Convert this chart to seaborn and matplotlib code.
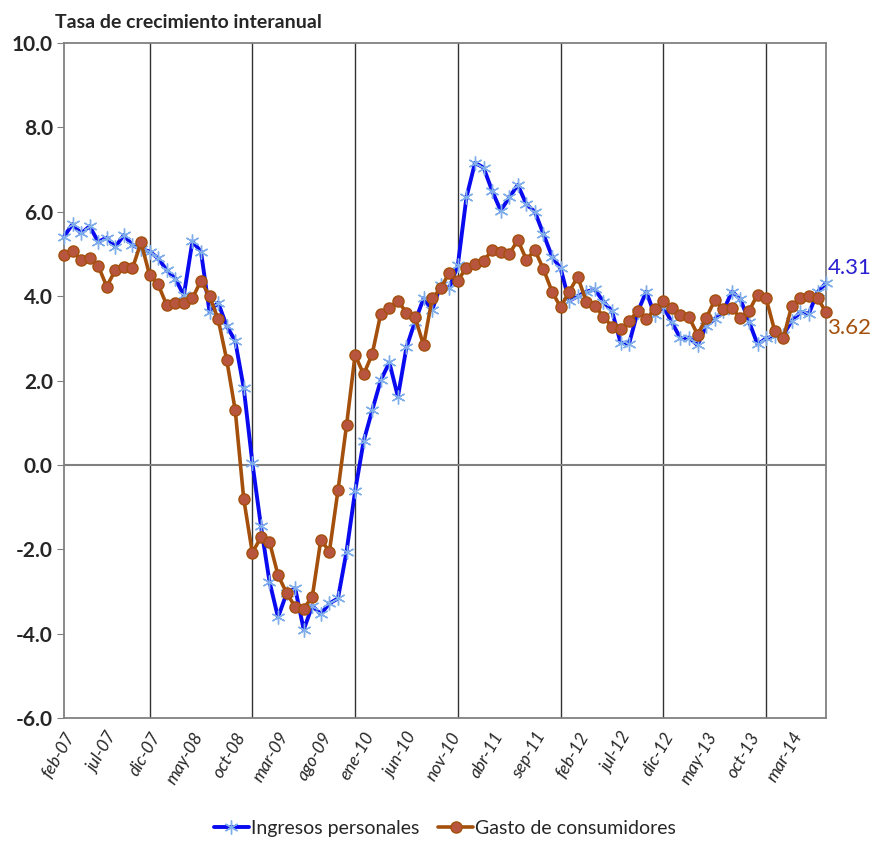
import matplotlib
matplotlib.use("Agg")
import matplotlib.pyplot as plt
import seaborn as sns
import pandas as pd
import numpy as np

# ==============================
# Data
# ==============================
tick_labels = ["feb-07", "jul-07", "dic-07", "may-08", "oct-08", "mar-09",
               "ago-09", "ene-10", "jun-10", "nov-10", "abr-11", "sep-11",
               "feb-12", "jul-12", "dic-12", "may-13", "oct-13", "mar-14"]

ingresos = [5.41, 5.71, 5.49, 5.66, 5.29, 5.39, 5.17, 5.45, 5.21, 5.12,
            5.06, 4.90, 4.62, 4.42, 4.02, 5.30, 5.06, 3.63, 3.85, 3.30,
            2.94, 1.82, 0.06, -1.44, -2.76, -3.61, -3.04, -2.92, -3.90, -3.34,
            -3.53, -3.28, -3.16, -2.05, -0.62, 0.57, 1.30, 2.01, 2.43, 1.62,
            2.79, 3.40, 3.95, 3.67, 4.27, 4.19, 4.74, 6.34, 7.16, 7.05,
            6.50, 6.03, 6.34, 6.64, 6.18, 6.00, 5.47, 4.94, 4.66, 3.89,
            4.00, 4.11, 4.16, 3.87, 3.65, 2.90, 2.88, 3.63, 4.11, 3.55,
            3.75, 3.38, 3.00, 3.02, 2.84, 3.30, 3.46, 3.65, 4.11, 3.93,
            3.40, 2.86, 3.00, 3.06, 3.08, 3.42, 3.62, 3.59, 4.10, 4.31]

gasto = [4.98, 5.08, 4.86, 4.90, 4.72, 4.23, 4.62, 4.70, 4.66, 5.28,
         4.50, 4.28, 3.79, 3.83, 3.83, 3.95, 4.37, 4.00, 3.46, 2.50,
         1.30, -0.81, -2.08, -1.71, -1.82, -2.61, -3.03, -3.36, -3.40, -3.12,
         -1.77, -2.05, -0.60, 0.94, 2.61, 2.15, 2.63, 3.59, 3.71, 3.89,
         3.61, 3.50, 2.84, 3.95, 4.19, 4.56, 4.37, 4.68, 4.76, 4.84,
         5.09, 5.06, 5.00, 5.33, 4.87, 5.09, 4.64, 4.11, 3.74, 4.11,
         4.46, 3.87, 3.77, 3.52, 3.28, 3.22, 3.41, 3.65, 3.45, 3.69,
         3.89, 3.72, 3.56, 3.50, 3.09, 3.48, 3.91, 3.69, 3.72, 3.48,
         3.65, 4.04, 3.95, 3.18, 3.00, 3.78, 3.95, 4.01, 3.96, 3.62]

df = pd.DataFrame({"mes": np.arange(len(ingresos)),
                   "ingresos": ingresos,
                   "gasto": gasto})

# ==============================
# Styling
# ==============================
sns.set_style("white")
plt.rcParams['font.family'] = ['Lato', 'DejaVu Sans']

blue = "#0A0AF0"
blue_marker = "#7FAEEA"
brown = "#A4500C"
brown_fill = "#B8553E"

fig = plt.figure(figsize=(8.76, 8.44), dpi=100)
ax = fig.add_axes([0.073, 0.149, 0.870, 0.800])

sns.lineplot(data=df, x="mes", y="ingresos", ax=ax, color=blue, linewidth=2.8,
             marker=(6, 2, 0), markersize=10, markeredgecolor=blue_marker,
             markeredgewidth=1.0, label="Ingresos personales", clip_on=False,
             zorder=3)
sns.lineplot(data=df, x="mes", y="gasto", ax=ax, color=brown, linewidth=2.6,
             marker="o", markersize=8, markerfacecolor=brown_fill,
             markeredgecolor=brown, markeredgewidth=1.0,
             label="Gasto de consumidores", clip_on=False, zorder=4)

# axes ranges and ticks
n = len(ingresos)
ax.set_xlim(0, n - 1)
ax.set_ylim(-6, 10)
yt = np.arange(-6, 10.1, 2)
ax.set_yticks(yt)
ax.set_yticklabels([f"{v:.1f}" for v in yt], fontsize=15, fontweight="bold")
ax.set_xticks(np.arange(0, n, 5)[:len(tick_labels)])
ax.set_xticklabels(tick_labels, rotation=60, ha="right", rotation_mode="anchor",
                   fontsize=12.5, fontstyle="italic")
ax.tick_params(axis="x", length=0, pad=8)
ax.tick_params(axis="y", length=5, color="grey", left=True, pad=3)
ax.set_xlabel("")
ax.set_ylabel("")

# December gridlines and zero line
for xv in np.arange(10, n, 12):
    ax.axvline(xv, color="#333333", linewidth=1.0, zorder=1)
ax.axhline(0, color="grey", linewidth=1.5, zorder=1)

for side in ["left", "right", "top", "bottom"]:
    ax.spines[side].set_color("grey")
    ax.spines[side].set_linewidth(1.3)

# title and end labels
fig.text(0.063, 0.973, "Tasa de crecimiento interanual", fontsize=14,
         fontweight="bold", ha="left", va="center")
ax.annotate(f"{ingresos[-1]:.2f}", xy=(n - 1, ingresos[-1]), xytext=(1, 11),
            textcoords="offset points", color="#2A1FD0", fontsize=16,
            ha="left", va="center", annotation_clip=False)
ax.annotate(f"{gasto[-1]:.2f}", xy=(n - 1, gasto[-1]), xytext=(1, -11),
            textcoords="offset points", color=brown, fontsize=16,
            ha="left", va="center", annotation_clip=False)

ax.legend(loc="upper center", bbox_to_anchor=(0.5, -0.125), ncol=2,
          frameon=False, fontsize=14, handlelength=1.8, handletextpad=0.1,
          columnspacing=1.0)

fig.savefig("out.png", dpi=100)
